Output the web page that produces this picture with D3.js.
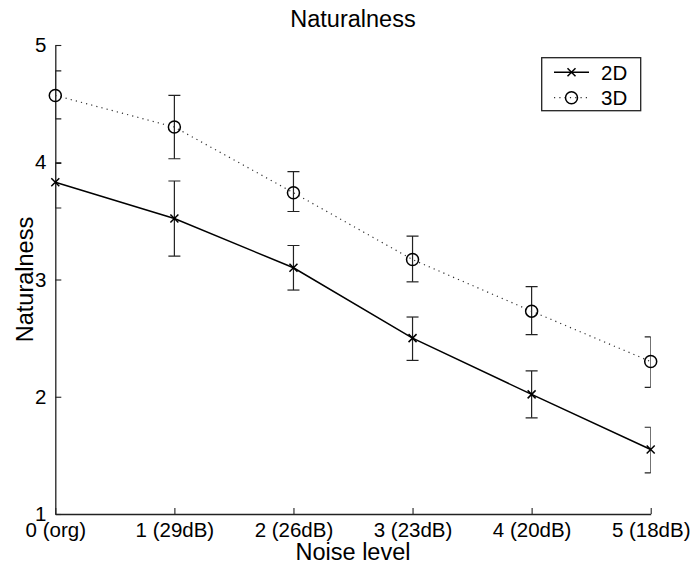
<!DOCTYPE html>
<html>
<head>
<meta charset="utf-8">
<script src="https://cdn.jsdelivr.net/npm/d3@7"></script>
<style>
  html, body { margin: 0; padding: 0; background: #fff; }
  svg { display: block; font-family: "Liberation Sans", Arial, sans-serif; }
</style>
</head>
<body>
<svg id="chart" width="693" height="567"></svg>
<script>
const categories = ["0 (org)", "1 (29dB)", "2 (26dB)", "3 (23dB)", "4 (20dB)", "5 (18dB)"];
const xValues = [0, 1, 2, 3, 4, 5];
const mean2D  = [3.83, 3.52, 3.10, 2.50, 2.02, 1.55];
const lower2D = [3.61, 3.20, 2.91, 2.31, 1.82, 1.35];
const upper2D = [3.99, 3.84, 3.29, 2.68, 2.22, 1.74];
const mean3D  = [4.57, 4.30, 3.74, 3.17, 2.73, 2.30];
const lower3D = [4.37, 4.03, 3.58, 2.98, 2.53, 2.08];
const upper3D = [4.78, 4.57, 3.92, 3.37, 2.94, 2.51];
const yTicks = [1, 2, 3, 4, 5];
const seriesNames = ["2D", "3D"];

(function () {
const svg = d3.select("#chart");
const pL = 55.3, pR = 650.7, pT = 45, pB = 514;
const x = d3.scaleLinear().domain([0, 5]).range([pL, pR]);
const y = d3.scaleLinear().domain([1, 5]).range([pB, pT]);

svg.append("defs").append("clipPath").attr("id", "clip")
  .append("rect").attr("x", pL).attr("y", pT).attr("width", pR - pL).attr("height", pB - pT);

// axes
const xAxis = d3.axisBottom(x).tickValues(xValues).tickSizeInner(-6).tickSizeOuter(0)
  .tickPadding(10).tickFormat((d, i) => categories[i]);
const gx = svg.append("g").attr("transform", `translate(0,${pB})`).call(xAxis);
const yAxis = d3.axisLeft(y).tickValues(yTicks).tickSizeInner(-6).tickSizeOuter(0)
  .tickPadding(9).tickFormat(d3.format("d"));
const gy = svg.append("g").attr("transform", `translate(${pL},0)`).call(yAxis);
[gx, gy].forEach(g => {
  g.select(".domain").attr("stroke", "#222").attr("stroke-width", 1.3);
  g.selectAll(".tick line").attr("stroke", "#222").attr("stroke-width", 1.1);
  g.selectAll(".tick text").attr("fill", "#000").attr("font-size", 20.5)
    .attr("font-family", "Liberation Sans, Arial, sans-serif");
});
gx.selectAll(".tick text").attr("dy", "0.71em").attr("y", 8.5);

// series
const series = [
  { name: seriesNames[0], mean: mean2D, lo: lower2D, hi: upper2D, dash: null, marker: "x" },
  { name: seriesNames[1], mean: mean3D, lo: lower3D, hi: upper3D, dash: "1.2,4.1", marker: "o" }
];

const clipG = svg.append("g").attr("clip-path", "url(#clip)");
const capW = 6;
series.forEach(s => {
  const eb = clipG.append("g").attr("stroke", "#222").attr("stroke-width", 1.2).attr("fill", "none");
  xValues.forEach((xv, i) => {
    eb.append("line").attr("x1", x(xv)).attr("x2", x(xv)).attr("y1", y(s.lo[i])).attr("y2", y(s.hi[i]));
    eb.append("line").attr("x1", x(xv) - capW).attr("x2", x(xv) + capW).attr("y1", y(s.lo[i])).attr("y2", y(s.lo[i]));
    eb.append("line").attr("x1", x(xv) - capW).attr("x2", x(xv) + capW).attr("y1", y(s.hi[i])).attr("y2", y(s.hi[i]));
  });
});

const line = d3.line().x((d, i) => x(xValues[i])).y(d => y(d));
series.forEach(s => {
  const p = svg.append("path").datum(s.mean).attr("d", line).attr("fill", "none")
    .attr("stroke", s.dash ? "#333" : "#000").attr("stroke-width", s.dash ? 1.2 : 1.5);
  if (s.dash) p.attr("stroke-dasharray", s.dash);
});

function drawMarker(g, type, cx, cy) {
  if (type === "x") {
    const r = 4;
    g.append("path").attr("d", `M${cx - r},${cy - r}L${cx + r},${cy + r}M${cx - r},${cy + r}L${cx + r},${cy - r}`)
      .attr("stroke", "#000").attr("stroke-width", 1.5).attr("fill", "none");
  } else {
    g.append("circle").attr("cx", cx).attr("cy", cy).attr("r", 6)
      .attr("stroke", "#000").attr("stroke-width", 1.5).attr("fill", "none");
  }
}
series.forEach(s => {
  const g = svg.append("g");
  s.mean.forEach((v, i) => drawMarker(g, s.marker, x(xValues[i]), y(v)));
});

// title and labels
svg.append("text").attr("x", (pL + pR) / 2).attr("y", 27).attr("text-anchor", "middle")
  .attr("font-size", 23.5).attr("fill", "#000").text("Naturalness");
svg.append("text").attr("x", (pL + pR) / 2).attr("y", 560).attr("text-anchor", "middle")
  .attr("font-size", 23.5).attr("fill", "#000").text("Noise level");
svg.append("text").attr("transform", `translate(33,${(pT + pB) / 2}) rotate(-90)`)
  .attr("text-anchor", "middle").attr("font-size", 23.5).attr("fill", "#000").text("Naturalness");

// legend
const lg = svg.append("g");
lg.append("rect").attr("x", 541.7).attr("y", 57.7).attr("width", 99).attr("height", 53)
  .attr("fill", "#fff").attr("stroke", "#222").attr("stroke-width", 1.3);
series.forEach((s, i) => {
  const ly = 72.3 + i * 25.4;
  const l = lg.append("line").attr("x1", 554).attr("x2", 589).attr("y1", ly).attr("y2", ly)
    .attr("stroke", s.dash ? "#333" : "#000").attr("stroke-width", s.dash ? 1.2 : 1.5);
  if (s.dash) l.attr("stroke-dasharray", s.dash);
  drawMarker(lg, s.marker, 571.5, ly);
  lg.append("text").attr("x", 601).attr("y", ly).attr("dy", "0.36em").attr("font-size", 20.5)
    .attr("fill", "#000").text(s.name);
});
})();
</script>
</body>
</html>
